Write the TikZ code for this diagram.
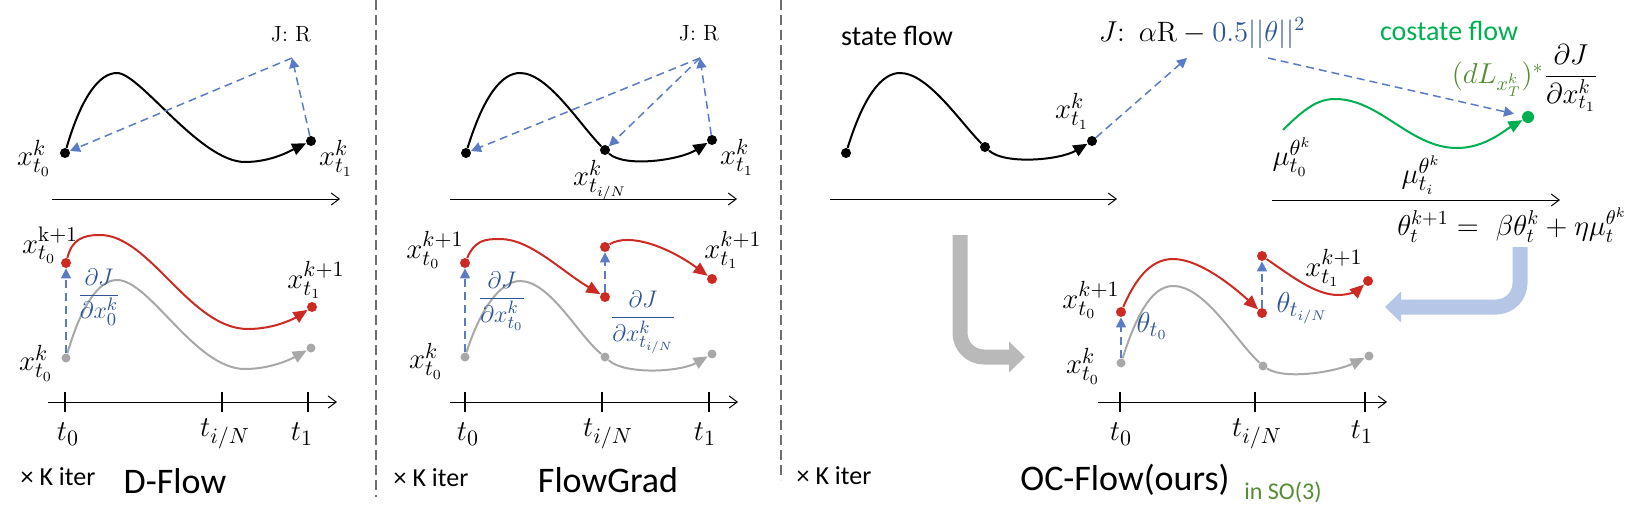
\documentclass[tikz,border=0pt]{standalone}
\usepackage{fontspec}
\setsansfont{Carlito}
\usetikzlibrary{arrows.meta}
\definecolor{gradblue}{RGB}{91,123,196}
\definecolor{txtblue}{RGB}{47,85,151}
\definecolor{flowred}{RGB}{205,42,36}
\definecolor{flowgray}{RGB}{168,168,168}
\definecolor{flowgreen}{RGB}{0,176,80}
\definecolor{olive}{RGB}{84,140,50}
\definecolor{lightblue}{RGB}{182,198,230}
\definecolor{sepgray}{RGB}{110,110,110}
\newcommand{\lblfont}{\fontsize{15}{17}\selectfont}
\begin{document}
\begin{tikzpicture}[x=0.5pt,y=-0.5pt,
    bdot/.style={circle,fill=black,inner sep=0pt,minimum size=5pt},
    rdot/.style={circle,fill=flowred,inner sep=0pt,minimum size=5pt},
    gdot/.style={circle,fill=flowgray,inner sep=0pt,minimum size=4.5pt},
    lbl/.style={inner sep=0pt,font=\lblfont},
    frac/.style={inner sep=0pt,font=\fontsize{13}{15}\selectfont},
    flow/.style={line width=1pt,-{Triangle[length=7pt,width=6pt]}},
    grad/.style={gradblue,line width=0.75pt,dash pattern=on 4pt off 2.5pt,
        -{Triangle[length=5pt,width=5pt]}},
    axis/.style={line width=0.5pt,-{Straight Barb[length=4pt,width=6pt]}},
    sep/.style={sepgray,line width=1pt,dash pattern=on 5pt off 2.5pt}]
\useasboundingbox (0,0) rectangle (1647,524);

% Separators
\draw[sep] (376,0) -- (376,497);
\draw[sep] (781,0) -- (781,480);

%%% D-Flow
% top: state trajectory and reward
\node[bdot] (s1) at (65,153) {};
\node[bdot] (e1) at (311,141) {};
\coordinate (Jp1) at (292,58);
\node[font=\fontsize{11}{13}\selectfont] (J1) at (291,34) {J: R};
\draw[flow] (s1) .. controls (82,95) and (100,73) .. (117,73)
    .. controls (140,73) and (200,162) .. (245,162)
    .. controls (272,162) and (292,150) .. (e1);
\draw[grad] (e1) -- (Jp1);
\draw[grad] (Jp1) -- (s1);
\node[lbl] at (34,158) {$x^k_{t_0}$};
\node[lbl] at (336,158) {$x^k_{t_1}$};
\coordinate (a1) at (52,199);
\coordinate (b1) at (340,199);
\draw[axis] (a1) -- (b1);

% bottom: update of the initial point
\node[rdot] (r10) at (66,263) {};
\node[rdot] (r11) at (312,307) {};
\node[gdot] (g10) at (66,358) {};
\node[gdot] (g11) at (311,348) {};
\draw[flow,flowgray] (g10) .. controls (80,310) and (97,280) .. (117,280)
    .. controls (150,280) and (195,369) .. (245,369)
    .. controls (272,369) and (293,358) .. (g11);
\draw[flow,flowred] (r10) .. controls (72,240) and (82,235) .. (100,235)
    .. controls (150,235) and (190,329) .. (248,329)
    .. controls (275,329) and (295,318) .. (r11);
\draw[grad] (g10) -- (r10);
\node[frac,txtblue] at (99,297) {$\displaystyle\frac{\partial J}{\partial x^k_0}$};
\node[lbl] at (50,245) {$x^{\mathrm{k+1}}_{t_0}$};
\node[lbl] at (316,280) {$x^{k+1}_{t_1}$};
\node[lbl] at (36,363) {$x^k_{t_0}$};
% time axis
\coordinate (ta1) at (48,402);
\coordinate (tb1) at (337,402);
\draw[axis] (ta1) -- (tb1);
\foreach \x in {65,222,308} {
    \draw[line width=1pt] (\x,392) -- (\x,412);
}
\node[lbl] at (68,434) {$t_0$};
\node[lbl] at (225,434) {$t_{i/N}$};
\node[lbl] at (302,434) {$t_1$};
\node[font=\sffamily\fontsize{13}{15}\selectfont] at (58,477) {× K iter};
\node[font=\sffamily\fontsize{18}{20}\selectfont] at (175,481) {D-Flow};

%%% FlowGrad
% top
\node[bdot] (s2) at (466,153) {};
\node[bdot] (m2) at (605,150) {};
\node[bdot] (e2) at (712,140) {};
\coordinate (Jp2) at (700,58);
\node[font=\fontsize{11}{13}\selectfont] (J2) at (699,33) {J: R};
\draw[line width=1pt] (s2) .. controls (484,95) and (502,73) .. (520,73)
    .. controls (548,73) and (580,125) .. (m2);
\draw[flow] (m2) .. controls (625,168) and (680,160) .. (e2);
\draw[grad] (e2) -- (Jp2);
\draw[grad] (Jp2) -- (m2);
\draw[grad] (Jp2) -- (s2);
\node[lbl] at (600,180) {$x^k_{t_{i/N}}$};
\node[lbl] at (737,157) {$x^k_{t_1}$};
\coordinate (a2) at (450,199);
\coordinate (b2) at (737,199);
\draw[axis] (a2) -- (b2);

% bottom: update at t_0 and t_{i/N}
\node[rdot] (r20) at (465,263) {};
\node[rdot] (r21) at (605,297) {};
\node[rdot] (r22) at (605,247) {};
\node[rdot] (r23) at (712,279) {};
\node[gdot] (g20) at (465,357) {};
\node[gdot] (g2m) at (605,357) {};
\node[gdot] (g21) at (712,354) {};
\draw[line width=1pt,flowgray] (g20) .. controls (480,310) and (500,281) .. (520,281)
    .. controls (550,281) and (578,335) .. (g2m);
\draw[flow,flowgray] (g2m) .. controls (625,375) and (680,372) .. (g21);
\draw[flow,flowred] (r20) .. controls (475,240) and (485,239) .. (500,239)
    .. controls (530,239) and (560,270) .. (r21);
\draw[flow,flowred] (r22) .. controls (630,232) and (670,248) .. (r23);
\draw[grad] (g20) -- (r20);
\draw[grad] (r21) -- (r22);
\node[frac,txtblue] at (502,301) {$\displaystyle\frac{\partial J}{\partial x^k_{t_0}}$};
\node[frac,txtblue] at (643,322) {$\displaystyle\frac{\partial J}{\partial x^k_{t_{i/N}}}$};
\node[lbl] at (435,250) {$x^{k+1}_{t_0}$};
\node[lbl] at (733,250) {$x^{k+1}_{t_1}$};
\node[lbl] at (426,361) {$x^k_{t_0}$};
% time axis
\coordinate (ta2) at (450,402);
\coordinate (tb2) at (738,402);
\draw[axis] (ta2) -- (tb2);
\foreach \x in {465,602,709} {
    \draw[line width=1pt] (\x,392) -- (\x,412);
}
\node[lbl] at (468,434) {$t_0$};
\node[lbl] at (608,434) {$t_{i/N}$};
\node[lbl] at (705,434) {$t_1$};
\node[font=\sffamily\fontsize{13}{15}\selectfont] at (431,478) {× K iter};
\node[font=\sffamily\fontsize{18}{20}\selectfont] at (608,480) {FlowGrad};

%%% OC-Flow
% state flow
\node[font=\sffamily\fontsize{14}{16}\selectfont] at (897,36) {state flow};
\node[bdot] (s3) at (846,153) {};
\node[bdot] (m3) at (985,147) {};
\node[bdot] (e3) at (1092,141) {};
\draw[line width=1pt] (s3) .. controls (864,95) and (882,73) .. (900,73)
    .. controls (928,73) and (960,122) .. (m3);
\draw[flow] (m3) .. controls (1005,165) and (1060,160) .. (e3);
\node[lbl] at (1072,111) {$x^k_{t_1}$};
\coordinate (Jp3) at (1187,58);
\draw[grad] (e3) -- (Jp3);
\coordinate (a3) at (830,199);
\coordinate (b3) at (1117,199);
\draw[axis] (a3) -- (b3);

% objective
\node[lbl,font=\fontsize{14}{16}\selectfont] (J3) at (1202,33)
    {$J\colon\ \alpha\mathrm{R} - {\color{txtblue}0.5||\theta||^2}$};

% costate flow
\node[font=\sffamily\fontsize{14}{16}\selectfont,flowgreen] at (1449,31) {costate flow};
\coordinate (c0) at (1283,130);
\node[circle,fill=flowgreen,inner sep=0pt,minimum size=6pt] (cd) at (1528,117) {};
\draw[flow,flowgreen] (c0) .. controls (1305,108) and (1318,99) .. (1335,99)
    .. controls (1380,99) and (1410,148) .. (1457,148)
    .. controls (1485,148) and (1505,130) .. (cd);
\coordinate (Jq) at (1268,58);
\draw[grad,shorten >=4pt] (Jq) -- (cd);
\node[lbl,font=\fontsize{14}{16}\selectfont] at (1525,78)
    {${\color{olive}(dL_{x^k_T})^*}\displaystyle\frac{\partial J}{\partial x^k_{t_1}}$};
\node[lbl] at (1292,157) {$\mu^{\theta^k}_{t_0}$};
\node[lbl] at (1421,175) {$\mu^{\theta^k}_{t_i}$};
\coordinate (a4) at (1272,200);
\coordinate (b4) at (1560,200);
\draw[axis] (a4) -- (b4);
\node[lbl,font=\fontsize{14}{16}\selectfont] at (1512,225)
    {$\theta^{k+1}_t =\ \beta\theta^k_t + \eta\mu^{\theta^k}_t$};

% big arrows
\draw[lightblue,line width=7.5pt,rounded corners=12pt,-{Triangle[length=8pt,width=15pt]}]
    (1520,247) -- (1520,307) -- (1385,307);
\draw[flowgray!80,line width=7.5pt,rounded corners=12pt,-{Triangle[length=8pt,width=15pt]}]
    (960,235) -- (960,357) -- (1025,357);

% bottom: update of the controls
\node[rdot] (r30) at (1121,312) {};
\node[rdot] (r31) at (1262,313) {};
\node[rdot] (r32) at (1262,256) {};
\node[rdot] (r33) at (1368,281) {};
\node[gdot] (g30) at (1121,363) {};
\node[gdot] (g3m) at (1263,366) {};
\node[gdot] (g31) at (1369,356) {};
\draw[line width=1pt,flowgray] (g30) .. controls (1135,320) and (1150,286) .. (1173,286)
    .. controls (1205,286) and (1235,340) .. (g3m);
\draw[flow,flowgray] (g3m) .. controls (1285,380) and (1335,372) .. (g31);
\draw[flow,flowred] (r30) .. controls (1135,280) and (1150,259) .. (1173,259)
    .. controls (1200,259) and (1235,288) .. (r31);
\draw[flow,flowred] (r32) .. controls (1290,275) and (1315,295) .. (1338,295)
    .. controls (1350,295) and (1358,290) .. (r33);
\draw[grad] (g30) -- (r30);
\draw[grad] (r31) -- (r32);
\node[lbl,txtblue] at (1152,326) {$\theta_{t_0}$};
\node[lbl,txtblue] at (1302,308) {$\theta_{t_{i/N}}$};
\node[lbl] at (1091,300) {$x^{k+1}_{t_0}$};
\node[lbl] at (1083,366) {$x^k_{t_0}$};
\node[lbl] at (1334,268) {$x^{k+1}_{t_1}$};
% time axis
\coordinate (ta3) at (1098,402);
\coordinate (tb3) at (1387,402);
\draw[axis] (ta3) -- (tb3);
\foreach \x in {1120,1255,1365} {
    \draw[line width=1pt] (\x,392) -- (\x,412);
}
\node[lbl] at (1121,434) {$t_0$};
\node[lbl] at (1257,434) {$t_{i/N}$};
\node[lbl] at (1362,432) {$t_1$};
\node[font=\sffamily\fontsize{13}{15}\selectfont] at (834,476) {× K iter};
\node[font=\sffamily\fontsize{18}{20}\selectfont] at (1125,480) {OC-Flow(ours)};
\node[font=\sffamily\fontsize{12}{14}\selectfont,olive] at (1283,492) {in SO(3)};
\end{tikzpicture}
\end{document}
